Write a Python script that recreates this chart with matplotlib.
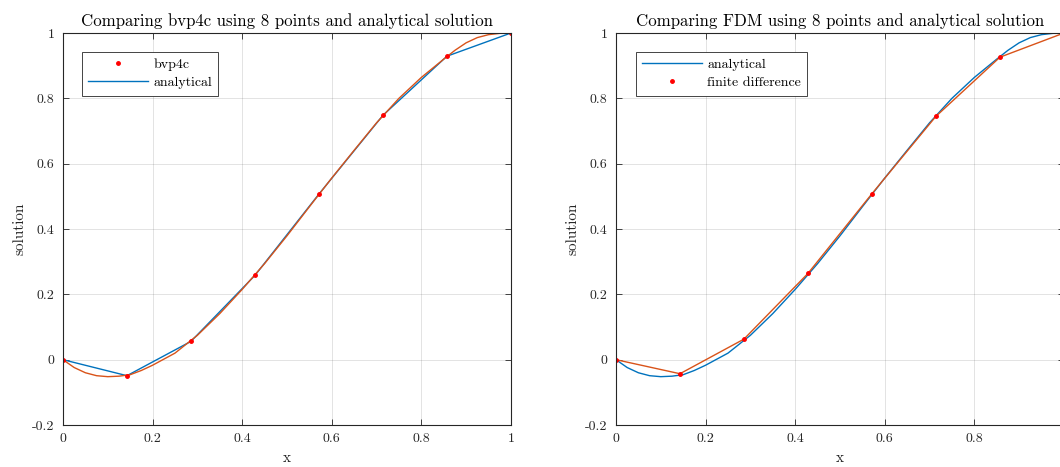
import matplotlib.pyplot as plt
import numpy as np

plt.rcParams['font.family'] = ['cmr10', 'DejaVu Serif']
plt.rcParams['mathtext.fontset'] = 'cm'
plt.rcParams['axes.unicode_minus'] = False
plt.rcParams['axes.formatter.use_mathtext'] = True

# 8 grid points on [0, 1]
x_nodes = np.arange(8) / 7
y_bvp4c = [0, -0.049, 0.056, 0.258, 0.507, 0.748, 0.929, 1.0]
y_exact_nodes = [0, -0.049, 0.056, 0.258, 0.507, 0.748, 0.929, 1.0]
y_fdm = [0, -0.043, 0.063, 0.264, 0.508, 0.745, 0.926, 1.0]

# analytical solution on a finer grid
x_fine = [0, 0.025, 0.05, 0.075, 0.1, 0.125, 0.15, 0.175, 0.2, 0.25, 0.3,
          0.35, 0.4, 0.45, 0.5, 0.55, 0.6, 0.65, 0.7, 0.75, 0.8, 0.85,
          0.875, 0.9, 0.925, 0.95, 0.975, 1.0]
y_fine = [0, -0.024, -0.040, -0.049, -0.052, -0.0505, -0.046, -0.033,
          -0.017, 0.020, 0.0745, 0.141, 0.215, 0.294, 0.379, 0.468, 0.556,
          0.641, 0.725, 0.800, 0.864, 0.920, 0.947, 0.970, 0.986, 0.995,
          0.999, 1.0]

blue = '#0072BD'
orange = '#D95319'

fig = plt.figure(figsize=(10.6, 4.67), dpi=100)
ax1 = fig.add_axes([0.0594, 0.0899, 0.4226, 0.8394])
ax2 = fig.add_axes([0.5811, 0.0899, 0.4226, 0.8394])


def style(ax, title, last_xlabel='1'):
    ax.set_xlim(0, 1)
    ax.set_ylim(-0.2, 1)
    ax.set_xticks(np.arange(0, 1.01, 0.2))
    ax.set_xticklabels(['0', '0.2', '0.4', '0.6', '0.8', last_xlabel])
    ax.set_yticks(np.arange(-0.2, 1.01, 0.2))
    ax.set_yticklabels(['-0.2', '0', '0.2', '0.4', '0.6', '0.8', '1'])
    ax.grid(True, color='#262626', alpha=0.15, linewidth=0.6)
    ax.set_axisbelow(True)
    ax.tick_params(direction='in', top=True, right=True, length=4,
                   width=0.6, labelsize=10, colors='#262626', pad=6)
    for s in ax.spines.values():
        s.set_linewidth(0.8)
        s.set_color('#262626')
    ax.set_xlabel('x', fontsize=11, color='#262626')
    ax.set_ylabel('solution', fontsize=11, color='#262626')
    ax.set_title(title, fontsize=12.1, color='black', pad=5)


def legend(ax, handles, labels, x0):
    leg = ax.legend(handles, labels, loc='upper left',
                    bbox_to_anchor=(x0, 0.9515), borderaxespad=0,
                    fontsize=10, fancybox=False, edgecolor='#262626',
                    framealpha=1, borderpad=0.45, handlelength=4.3,
                    handletextpad=0.4, labelspacing=0.4)
    leg.get_frame().set_linewidth(0.6)


ln_a, = ax1.plot(x_nodes, y_exact_nodes, color=blue, linewidth=1)
ax1.plot(x_fine, y_fine, color=orange, linewidth=1)
ln_b, = ax1.plot(x_nodes, y_bvp4c, 'r.', markersize=5)
style(ax1, 'Comparing bvp4c using 8 points and analytical solution')
legend(ax1, [ln_b, ln_a], ['bvp4c', 'analytical'], 0.0424)

ln_c, = ax2.plot(x_fine, y_fine, color=blue, linewidth=1)
ax2.plot(x_nodes, y_fdm, color=orange, linewidth=1)
ln_d, = ax2.plot(x_nodes, y_fdm, 'r.', markersize=5)
style(ax2, 'Comparing FDM using 8 points and analytical solution', '')
legend(ax2, [ln_c, ln_d], ['analytical', 'finite difference'], 0.0446)

fig.savefig('out.png', dpi=100)
